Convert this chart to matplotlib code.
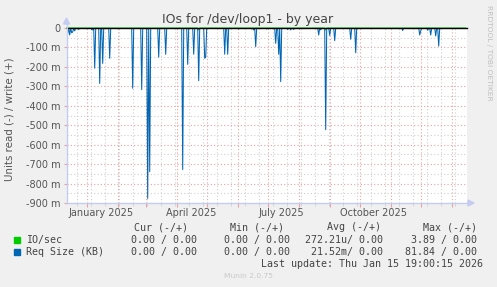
import matplotlib
matplotlib.use("Agg")
import matplotlib.pyplot as plt
import matplotlib.dates as mdates
from matplotlib.lines import Line2D
from matplotlib.patches import Polygon, Rectangle
import numpy as np
import pandas as pd

# ---------------- data ----------------
title = "IOs for /dev/loop1 - by year"
ylabel = "Units read (-) / write (+)"
month_labels = ["January 2025", "April 2025", "July 2025", "October 2025"]
month_label_dates = ["2025-01-15", "2025-04-15", "2025-07-15", "2025-10-15"]

# Req Size (KB) read side (plotted negative), milli-units, by day
req_dates = ["2024-12-13", "2024-12-15", "2024-12-17", "2024-12-18", "2024-12-20",
             "2024-12-24", "2024-12-31", "2025-01-06", "2025-01-07", "2025-01-09",
             "2025-01-14", "2025-01-17", "2025-01-24", "2025-02-16", "2025-02-25",
             "2025-03-03", "2025-03-05", "2025-03-14", "2025-03-21", "2025-04-07",
             "2025-04-12", "2025-04-18", "2025-04-23", "2025-04-29", "2025-04-30",
             "2025-05-19", "2025-05-22", "2025-06-02", "2025-06-15", "2025-06-17",
             "2025-06-19", "2025-06-30", "2025-07-09", "2025-07-12", "2025-07-14",
             "2025-07-21", "2025-07-24", "2025-07-27", "2025-08-21", "2025-08-23",
             "2025-08-28", "2025-09-01", "2025-09-06", "2025-09-22", "2025-09-27",
             "2025-11-13", "2025-11-30", "2025-12-01", "2025-12-08", "2025-12-11",
             "2025-12-16", "2025-12-19"]
req_values_m = [-30, -36, -25, -20, -15,
                -8, -3, -8, -10, -207,
                -285, -182, -156, -310, -317,
                -876, -739, -150, -135, -728,
                -187, -135, -271, -156, -150,
                -135, -135, -5, -5, -10,
                -96, -5, -79, -135, -276,
                -8, -10, -8, -36, -10,
                -523, -38, -65, -58, -127,
                -13, -36, -15, -12, -36,
                -41, -93]

# IO/sec read side, milli-units
io_dates = ["2025-04-23", "2025-08-28"]
io_values_m = [-10, -10]

series_start = "2024-12-12"
series_end = "2026-01-15"

# legend table
legend_names = ["IO/sec", "Req Size (KB)"]
legend_colors = ["#00CC00", "#0066B3"]
cur_vals = ["0.00 / 0.00", "0.00 / 0.00"]
min_vals = ["0.00 / 0.00", "0.00 / 0.00"]
avg_vals = ["272.21u/ 0.00", "21.52m/ 0.00"]
max_vals = ["3.89 / 0.00", "81.84 / 0.00"]
last_update = "Last update: Thu Jan 15 19:00:15 2026"
footer = "Munin 2.0.75"
side_text = "RRDTOOL / TOBI OETIKER"

# ---------------- build series ----------------
days = pd.date_range(series_start, series_end, freq="D")
req = pd.Series(0.0, index=days)
req.loc[pd.to_datetime(req_dates)] = np.array(req_values_m) / 1000.0
io = pd.Series(0.0, index=days)
io.loc[pd.to_datetime(io_dates)] = np.array(io_values_m) / 1000.0

# ---------------- figure ----------------
W, H = 497, 287
fig = plt.figure(figsize=(W / 100, H / 100), dpi=100, facecolor="#F0F0F0")

def px(x, y):
    return x / W, 1 - y / H

L, R, T, B = 66.5, 466.5, 28, 203
ax = fig.add_axes([L / W, 1 - B / H, (R - L) / W, (B - T) / H])
ax.set_facecolor("white")
for s in ax.spines.values():
    s.set_visible(False)

xstart = pd.Timestamp("2024-12-11 19:00")
xend = pd.Timestamp("2026-01-15 19:00")
ax.set_xlim(xstart, xend)
ax.set_ylim(-0.9, 0)

major_col = "#e6a3a3"
minor_col = "#cfcfcf"
dot = (0, (1, 2))

# vertical grid
months = pd.date_range("2025-01-01", "2026-01-01", freq="MS")
biweeks = pd.date_range("2024-12-22", "2026-01-15", freq="14D")
for d in biweeks:
    ax.axvline(d, color=minor_col, lw=0.8, ls=dot, zorder=0)
for d in months:
    ax.axvline(d, color=major_col, lw=0.8, ls=dot, zorder=0.5)
# horizontal grid
for v in np.arange(-0.85, 0, 0.1):
    ax.axhline(v, color=minor_col, lw=0.8, ls=dot, zorder=0)
for v in np.arange(-0.8, -0.05, 0.1):
    ax.axhline(v, color=major_col, lw=0.8, ls=dot, zorder=0.5)

# ticks
ax.set_xticks(months)
ax.set_xticks(biweeks, minor=True)
ax.tick_params(axis="x", which="major", length=3, color=major_col, labelbottom=False, direction="out")
ax.tick_params(axis="x", which="minor", length=2, color=minor_col, direction="out")
yt = np.arange(-0.9, 0.01, 0.1)
ax.set_yticks(yt)
ax.set_yticklabels(["0" if abs(v) < 1e-9 else f"{int(round(v * 1000))} m" for v in yt])
ax.tick_params(axis="y", length=2, color=major_col, labelsize=7, labelcolor="#555555", pad=2)

# data
ax.plot(io.index, io.values, color=legend_colors[0], lw=0.75, zorder=2, clip_on=False)
ax.plot(req.index, req.values, color=legend_colors[1], lw=0.75, zorder=2.5)
ax.axhline(0, color="black", lw=1.0, zorder=3, clip_on=False)

# month labels
for lab, d in zip(month_labels, month_label_dates):
    xd = mdates.date2num(pd.Timestamp(d))
    fx = (ax.transData.transform((xd, 0))[0]) / fig.dpi / fig.get_figwidth()
    fig.text(fx, 1 - 212.5 / H, lab, ha="center", va="center", fontsize=7, color="#555555")

# axes lines with arrows
axis_col = "#c4ccf2"
fig.add_artist(Line2D([L / W, L / W], [1 - B / H, 1 - 22 / H], color=axis_col, lw=1))
fig.add_artist(Line2D([L / W, 469 / W], [1 - B / H, 1 - B / H], color=axis_col, lw=1))
fig.add_artist(Polygon([px(L - 3, 24), px(L + 3, 24), px(L, 18)], closed=True,
                       color=axis_col, transform=fig.transFigure))
fig.add_artist(Polygon([px(468, B - 3), px(468, B + 3), px(474, B)], closed=True,
                       color=axis_col, transform=fig.transFigure))

# title, labels
fig.text(*px(248, 19), title, ha="center", va="center", fontsize=9, color="#444444")
fig.text(*px(10, 119), ylabel, ha="center", va="center", rotation=90, fontsize=7.4, color="#555555")
fig.text(*px(489, 53), side_text, ha="center", va="center", rotation=270, fontsize=5.4, color="#c0c0c0")

# legend table
mono = "DejaVu Sans Mono"
fs = 7.2
tc = "#444444"
for hdr, x in zip(["Cur (-/+)", "Min (-/+)", "Avg (-/+)", "Max (-/+)"], [134, 230, 327, 423]):
    fig.text(*px(x, 227.3), hdr, ha="left", va="center", family=mono, fontsize=fs, color=tc)
rows_y = [239.7, 251.7]
for i in range(2):
    y = rows_y[i]
    fig.add_artist(Rectangle(px(14, y + 3), 6 / W, 6 / H, color=legend_colors[i], transform=fig.transFigure))
    fig.text(*px(26, y), legend_names[i], ha="left", va="center", family=mono, fontsize=fs, color=tc)
    for val, xr in zip([cur_vals[i], min_vals[i], avg_vals[i], max_vals[i]], [197, 290, 383, 477]):
        fig.text(*px(xr, y), val, ha="right", va="center", family=mono, fontsize=fs, color=tc)
fig.text(*px(483, 263.7), last_update, ha="right", va="center", family=mono, fontsize=fs, color=tc)
fig.text(*px(248, 276), footer, ha="center", va="center", fontsize=5.4, color="#c8c8c8")

fig.savefig("out.png", dpi=100, facecolor=fig.get_facecolor())
